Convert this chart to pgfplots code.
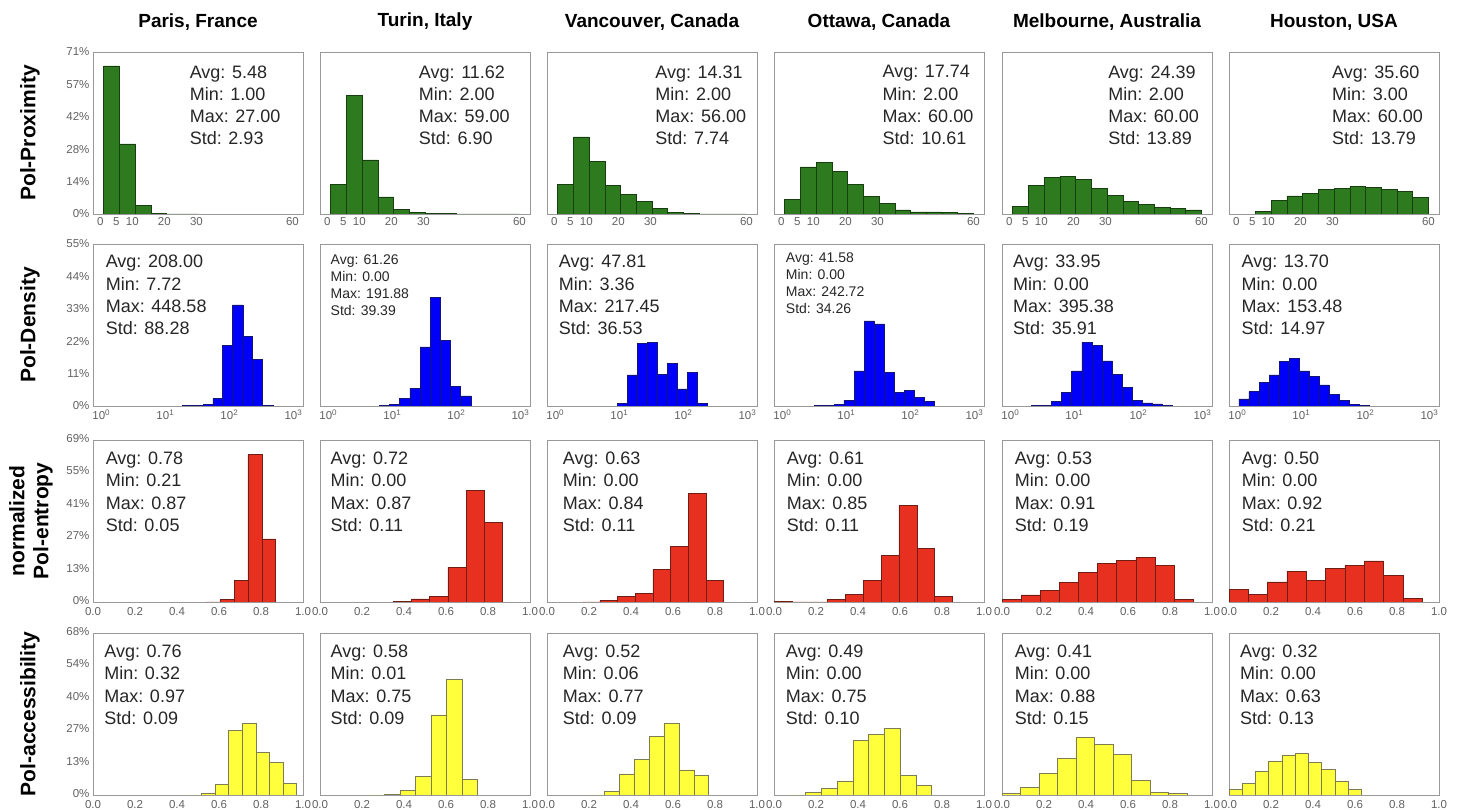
\documentclass[border=0pt]{standalone}
\usepackage{pgfplots}
\pgfplotsset{compat=1.18}
\usepackage{fontspec}
\setmainfont{Liberation Sans}

\definecolor{pgreen}{RGB}{46,122,31}
\definecolor{pgreenedge}{RGB}{22,62,14}
\definecolor{pblue}{RGB}{0,0,250}
\definecolor{pblueedge}{RGB}{20,20,120}
\definecolor{pred}{RGB}{232,48,32}
\definecolor{prededge}{RGB}{110,30,20}
\definecolor{pyellow}{RGB}{255,255,60}
\definecolor{pyellowedge}{RGB}{125,125,85}

\pgfplotsset{
  panel/.style={
    scale only axis, width=210pt, height=162pt, anchor=north west,
    axis line style={draw=black!40, line width=0.9pt},
    major tick length=0pt, minor tick length=0pt, tick style={draw=none},
    tick label style={font=\fontsize{11.5}{13}\selectfont, text=black!62},
    ymin=0, ytick=\empty,
  },
  r1/.style={ymax=71, xmin=-2.3, xmax=63.3, xtick={0,5,10,20,30,60},
    xticklabels={0,5,10,20,30,60}},
  r1y/.style={ytick={0,14.2,28.4,42.6,56.8,71},
    yticklabels={0\%,14\%,28\%,42\%,57\%,71\%}},
  r2/.style={ymax=55, xmin=0.741, xmax=1413,
    xtick={1,10,100,1000},
    xticklabels={10\textsuperscript{0},10\textsuperscript{1},10\textsuperscript{2},10\textsuperscript{3}}},
  r2y/.style={ytick={0,11,22,33,44,55},
    yticklabels={0\%,11\%,22\%,33\%,44\%,55\%}},
  r3/.style={ymax=69, xmin=0, xmax=1, xtick={0,0.2,0.4,0.6,0.8,1},
    xticklabels={0.0,0.2,0.4,0.6,0.8,1.0},
    x tick label style={yshift=-2pt}},
  r3y/.style={ytick={0,13.8,27.6,41.4,55.2,69},
    yticklabels={0\%,13\%,27\%,41\%,55\%,69\%},
    y tick label style={yshift=1.5pt}},
  r4/.style={ymax=68, xmin=0, xmax=1, xtick={0,0.2,0.4,0.6,0.8,1},
    xticklabels={0.0,0.2,0.4,0.6,0.8,1.0},
    x tick label style={yshift=-2pt}},
  r4y/.style={ytick={0,13.6,27.2,40.8,54.4,68},
    yticklabels={0\%,13\%,27\%,40\%,54\%,68\%},
    y tick label style={yshift=1.5pt}},
  gb/.style={ybar interval, fill=pgreen, draw=pgreenedge, line width=0.5pt},
  bb/.style={ybar interval, fill=pblue, draw=pblueedge, line width=0.5pt},
  rb/.style={ybar interval, fill=pred, draw=prededge, line width=0.5pt},
  yb/.style={ybar interval, fill=pyellow, draw=pyellowedge, line width=0.5pt},
}
\tikzset{
  stat/.style={anchor=north west, inner sep=0pt, align=left, text=black!85,
    font=\fontsize{18}{22.3}\selectfont},
  statsmall/.style={stat, font=\fontsize{14}{17}\selectfont},
  coltitle/.style={font=\fontsize{19}{23}\selectfont\bfseries, anchor=center},
  rowtitle/.style={font=\fontsize{21}{24}\selectfont\bfseries, rotate=90,
    anchor=center, align=center},
}

% panel corners (left edges and top edges)
\def\cA{93pt}\def\cB{320pt}\def\cC{547pt}\def\cD{774pt}\def\cE{1002pt}\def\cF{1229pt}
\def\rA{-52pt}\def\rB{-244pt}\def\rC{-440pt}\def\rD{-633pt}

\begin{document}
\begin{tikzpicture}
\useasboundingbox (0,0) rectangle (1457pt,-810pt);

% column titles
\node[coltitle] at (198pt,-22pt) {Paris, France};
\node[coltitle] at (425pt,-22pt) {Turin, Italy};
\node[coltitle] at (652pt,-22pt) {Vancouver, Canada};
\node[coltitle] at (879pt,-22pt) {Ottawa, Canada};
\node[coltitle] at (1107pt,-22pt) {Melbourne, Australia};
\node[coltitle] at (1334pt,-22pt) {Houston, USA};

% row titles
\node[rowtitle] at (30pt,-133pt) {Pol-Proximity};
\node[rowtitle] at (30pt,-325pt) {Pol-Density};
\node[rowtitle] at (31pt,-521pt) {normalized\\Pol-entropy};
\node[rowtitle] at (30pt,-714pt) {Pol-accessibility};

% ---------------- Pol-Proximity ----------------
\begin{axis}[panel, r1, r1y, at={(\cA,\rA)}]
\addplot[gb] coordinates {(1,64.9) (5.917,30.7) (10.833,3.8) (15.75,0.4) (20.667,0.1) (25.583,0.05) (30.5,0)};
\node[stat] at (rel axis cs:0.46,0.918) {Avg: 5.48\\Min: 1.00\\Max: 27.00\\Std: 2.93};
\end{axis}
\begin{axis}[panel, r1, at={(\cB,\rA)}]
\addplot[gb] coordinates {(1,12.9) (5.917,52.0) (10.833,23.7) (15.75,7.5) (20.667,2.0) (25.583,0.7) (30.5,0.4) (35.417,0.15) (40.333,0.1) (45.25,0.05) (50.167,0.03) (55.083,0.03) (60,0)};
\node[stat] at (rel axis cs:0.47,0.918) {Avg: 11.62\\Min: 2.00\\Max: 59.00\\Std: 6.90};
\end{axis}
\begin{axis}[panel, r1, at={(\cC,\rA)}]
\addplot[gb] coordinates {(1,12.9) (5.917,33.8) (10.833,23.1) (15.75,12.7) (20.667,8.6) (25.583,5.6) (30.5,2.6) (35.417,0.7) (40.333,0.3) (45.25,0.1) (50.167,0.05) (55.083,0.02) (60,0)};
\node[stat] at (rel axis cs:0.515,0.918) {Avg: 14.31\\Min: 2.00\\Max: 56.00\\Std: 7.74};
\end{axis}
\begin{axis}[panel, r1, at={(\cD,\rA)}]
\addplot[gb] coordinates {(1,6.3) (5.917,20.6) (10.833,22.5) (15.75,18.7) (20.667,13.0) (25.583,7.8) (30.5,4.5) (35.417,1.8) (40.333,0.9) (45.25,0.9) (50.167,0.7) (55.083,0.4) (60,0)};
\node[stat] at (rel axis cs:0.516,0.918) {Avg: 17.74\\Min: 2.00\\Max: 60.00\\Std: 10.61};
\end{axis}
\begin{axis}[panel, r1, at={(\cE,\rA)}]
\addplot[gb] coordinates {(1,3.2) (5.917,12.7) (10.833,16.1) (15.75,16.5) (20.667,15.2) (25.583,11.3) (30.5,8.1) (35.417,5.6) (40.333,4.1) (45.25,2.9) (50.167,2.5) (55.083,1.8) (60,0)};
\node[stat] at (rel axis cs:0.505,0.918) {Avg: 24.39\\Min: 2.00\\Max: 60.00\\Std: 13.89};
\end{axis}
\begin{axis}[panel, r1, at={(\cF,\rA)}]
\addplot[gb] coordinates {(5.917,1.2) (10.833,5.9) (15.75,7.9) (20.667,9.2) (25.583,10.7) (30.5,11.3) (35.417,12.2) (40.333,11.7) (45.25,10.8) (50.167,9.8) (55.083,7.3) (60,0)};
\node[stat] at (rel axis cs:0.49,0.918) {Avg: 35.60\\Min: 3.00\\Max: 60.00\\Std: 13.79};
\end{axis}

% ---------------- Pol-Density (log x) ----------------
\begin{semilogxaxis}[panel, r2, r2y, at={(\cA,\rB)}]
\addplot[bb] coordinates {(18.6,0.1) (26.9,0.2) (38.5,0.5) (55.0,2.7) (78.5,20.6) (112.2,34.3) (162.2,23.7) (231.7,15.8) (331.1,0.3) (478.6,0)};
\node[stat] at (rel axis cs:0.06,0.932) {Avg: 208.00\\Min: 7.72\\Max: 448.58\\Std: 88.28};
\end{semilogxaxis}
\begin{semilogxaxis}[panel, r2, at={(\cB,\rB)}]
\addplot[bb] coordinates {(6.24,0.1) (9.08,0.6) (13.0,2.6) (18.7,6.1) (27.2,20.1) (39.0,36.8) (56.0,22.2) (80.4,6.7) (117,3.4) (168,0)};
\node[statsmall] at (rel axis cs:0.05,0.938) {Avg: 61.26\\Min: 0.00\\Max: 191.88\\Std: 39.39};
\end{semilogxaxis}
\begin{semilogxaxis}[panel, r2, at={(\cC,\rB)}]
\addplot[bb] coordinates {(9.31,1.0) (13.5,10.6) (19.3,21.3) (27.7,21.6) (39.7,10.8) (56.9,14.4) (81.5,5.8) (116.7,11.5) (167.1,1.0) (239.3,0)};
\node[stat] at (rel axis cs:0.056,0.932) {Avg: 47.81\\Min: 3.36\\Max: 217.45\\Std: 36.53};
\end{semilogxaxis}
\begin{semilogxaxis}[panel, r2, at={(\cD,\rB)}]
\addplot[bb] coordinates {(3.13,0.1) (4.48,0.2) (6.41,0.45) (9.18,1.9) (13.3,11.9) (19.1,28.9) (27.4,27.9) (39.2,11.5) (56.1,4.7) (80.5,5.3) (115.3,3.0) (165.2,1.6) (239.3,0)};
\node[statsmall] at (rel axis cs:0.056,0.949) {Avg: 41.58\\Min: 0.00\\Max: 242.72\\Std: 34.26};
\end{semilogxaxis}
\begin{semilogxaxis}[panel, r2, at={(\cE,\rB)}]
\addplot[bb] coordinates {(2.13,0.1) (3.05,0.3) (4.38,1.5) (6.34,4.6) (9.08,11.9) (13.15,21.6) (18.9,20.7) (27.0,15.3) (39.2,10.8) (56.1,6.2) (81.5,1.9) (116.7,1.1) (167.1,0.7) (239.3,0.3) (343.6,0)};
\node[stat] at (rel axis cs:0.052,0.932) {Avg: 33.95\\Min: 0.00\\Max: 395.38\\Std: 35.91};
\end{semilogxaxis}
\begin{semilogxaxis}[panel, r2, at={(\cF,\rB)}]
\addplot[bb] coordinates {(1.06,2.4) (1.52,4.9) (2.18,8.1) (3.13,10.6) (4.49,15.1) (6.43,16.2) (9.23,11.9) (13.24,10.0) (18.97,7.2) (27.2,4.0) (39.0,1.9) (55.8,0.6) (80.2,0.2) (114.8,0)};
\node[stat] at (rel axis cs:0.059,0.932) {Avg: 13.70\\Min: 0.00\\Max: 153.48\\Std: 14.97};
\end{semilogxaxis}

% ---------------- normalized Pol-entropy ----------------
\begin{axis}[panel, r3, r3y, at={(\cA,\rC)}]
\addplot[rb] coordinates {(0.54,0.1) (0.606,1.0) (0.672,9.2) (0.738,62.8) (0.804,26.9) (0.87,0)};
\node[stat] at (rel axis cs:0.06,0.928) {Avg: 0.78\\Min: 0.21\\Max: 0.87\\Std: 0.05};
\end{axis}
\begin{axis}[panel, r3, at={(\cB,\rC)}]
\addplot[rb] coordinates {(0.348,0.15) (0.435,1.3) (0.522,2.3) (0.609,14.8) (0.696,47.5) (0.783,33.8) (0.87,0)};
\node[stat] at (rel axis cs:0.05,0.928) {Avg: 0.72\\Min: 0.00\\Max: 0.87\\Std: 0.11};
\end{axis}
\begin{axis}[panel, r3, at={(\cC,\rC)}]
\addplot[rb] coordinates {(0.168,0.1) (0.252,0.6) (0.336,2.5) (0.42,3.8) (0.504,13.9) (0.588,23.6) (0.672,46.2) (0.756,9.3) (0.84,0)};
\node[stat] at (rel axis cs:0.075,0.928) {Avg: 0.63\\Min: 0.00\\Max: 0.84\\Std: 0.11};
\end{axis}
\begin{axis}[panel, r3, at={(\cD,\rC)}]
\addplot[rb] coordinates {(0,0.3) (0.085,0.05) (0.17,0.1) (0.255,1.1) (0.34,3.4) (0.425,9.3) (0.51,19.8) (0.595,41.0) (0.68,22.9) (0.765,2.3) (0.85,0)};
\node[stat] at (rel axis cs:0.06,0.928) {Avg: 0.61\\Min: 0.00\\Max: 0.85\\Std: 0.11};
\end{axis}
\begin{axis}[panel, r3, at={(\cE,\rC)}]
\addplot[rb] coordinates {(0,1.1) (0.091,3.0) (0.182,4.8) (0.273,8.2) (0.364,12.6) (0.455,16.4) (0.546,17.7) (0.637,19.1) (0.728,15.7) (0.819,1.1) (0.91,0)};
\node[stat] at (rel axis cs:0.06,0.928) {Avg: 0.53\\Min: 0.00\\Max: 0.91\\Std: 0.19};
\end{axis}
\begin{axis}[panel, r3, at={(\cF,\rC)}]
\addplot[rb] coordinates {(0,5.4) (0.092,3.1) (0.184,8.6) (0.276,13.1) (0.368,9.2) (0.46,14.3) (0.552,15.7) (0.644,17.5) (0.736,11.2) (0.828,1.6) (0.92,0)};
\node[stat] at (rel axis cs:0.06,0.928) {Avg: 0.50\\Min: 0.00\\Max: 0.92\\Std: 0.21};
\end{axis}

% ---------------- Pol-accessibility ----------------
\begin{axis}[panel, r4, r4y, at={(\cA,\rD)}]
\addplot[yb] coordinates {(0.45,0.1) (0.515,0.7) (0.58,4.6) (0.645,27.1) (0.71,30.1) (0.775,17.8) (0.84,13.6) (0.905,4.9) (0.97,0)};
\node[stat] at (rel axis cs:0.053,0.928) {Avg: 0.76\\Min: 0.32\\Max: 0.97\\Std: 0.09};
\end{axis}
\begin{axis}[panel, r4, at={(\cB,\rD)}]
\addplot[yb] coordinates {(0.232,0.1) (0.306,0.3) (0.38,1.8) (0.454,7.9) (0.528,33.6) (0.602,48.6) (0.676,6.4) (0.75,0)};
\node[stat] at (rel axis cs:0.05,0.928) {Avg: 0.58\\Min: 0.01\\Max: 0.75\\Std: 0.09};
\end{axis}
\begin{axis}[panel, r4, at={(\cC,\rD)}]
\addplot[yb] coordinates {(0.202,0.1) (0.273,1.5) (0.344,8.9) (0.415,14.8) (0.486,24.7) (0.557,30.2) (0.628,10.5) (0.699,8.2) (0.77,0)};
\node[stat] at (rel axis cs:0.075,0.928) {Avg: 0.52\\Min: 0.06\\Max: 0.77\\Std: 0.09};
\end{axis}
\begin{axis}[panel, r4, at={(\cD,\rD)}]
\addplot[yb] coordinates {(0.075,0.1) (0.15,1.0) (0.225,2.7) (0.3,5.9) (0.375,22.9) (0.45,25.4) (0.525,28.1) (0.6,8.1) (0.675,4.1) (0.75,0)};
\node[stat] at (rel axis cs:0.056,0.928) {Avg: 0.49\\Min: 0.00\\Max: 0.75\\Std: 0.10};
\end{axis}
\begin{axis}[panel, r4, at={(\cE,\rD)}]
\addplot[yb] coordinates {(0,0.6) (0.088,3.2) (0.176,9.1) (0.264,15.4) (0.352,24.2) (0.44,21.2) (0.528,17.2) (0.616,6.0) (0.704,1.1) (0.792,0.7) (0.88,0)};
\node[stat] at (rel axis cs:0.06,0.928) {Avg: 0.41\\Min: 0.00\\Max: 0.88\\Std: 0.15};
\end{axis}
\begin{axis}[panel, r4, at={(\cF,\rD)}]
\addplot[yb] coordinates {(0,2.4) (0.063,5.0) (0.126,9.8) (0.189,14.1) (0.252,16.8) (0.315,17.5) (0.378,13.7) (0.441,10.8) (0.504,5.9) (0.567,2.4) (0.63,0)};
\node[stat] at (rel axis cs:0.052,0.928) {Avg: 0.32\\Min: 0.00\\Max: 0.63\\Std: 0.13};
\end{axis}
\end{tikzpicture}
\end{document}
